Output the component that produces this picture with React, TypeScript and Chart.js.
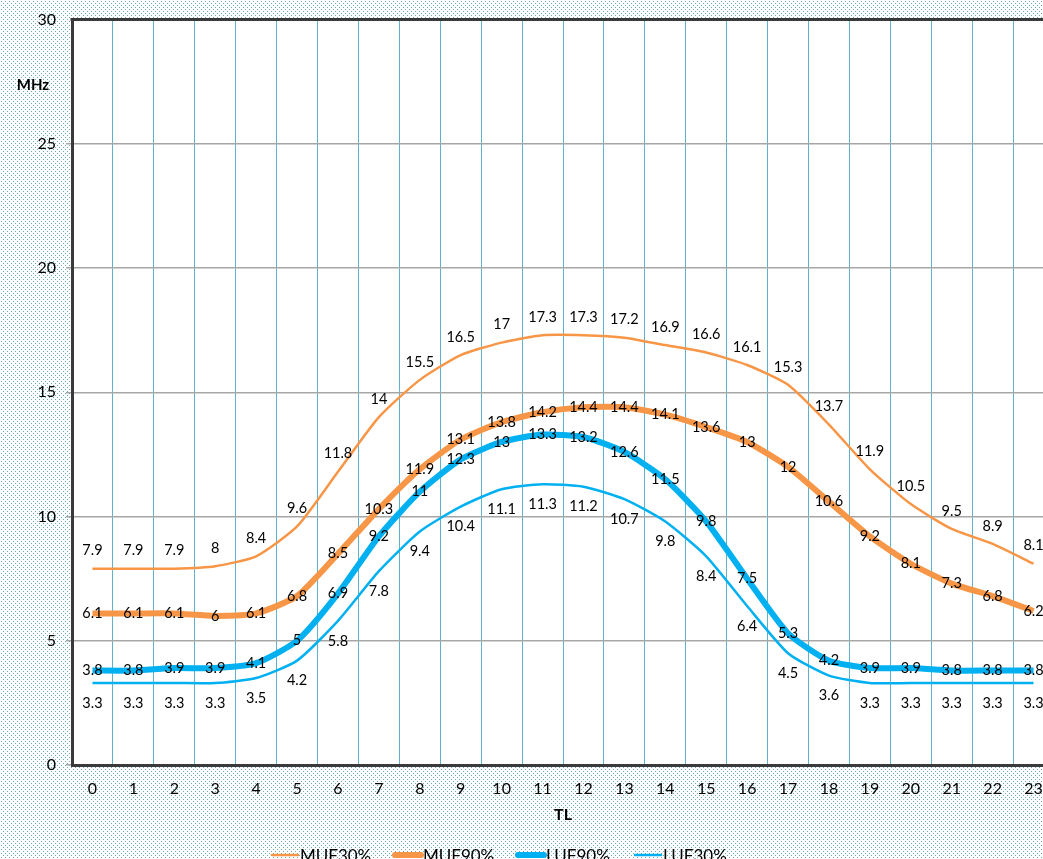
import React, { useEffect, useRef } from "react";
import { Chart, registerables } from "chart.js";

Chart.register(...registerables);

const hours = ["0","1","2","3","4","5","6","7","8","9","10","11","12","13","14","15","16","17","18","19","20","21","22","23"];
const muf30 = [7.9,7.9,7.9,8,8.4,9.6,11.8,14,15.5,16.5,17,17.3,17.3,17.2,16.9,16.6,16.1,15.3,13.7,11.9,10.5,9.5,8.9,8.1];
const muf90 = [6.1,6.1,6.1,6,6.1,6.8,8.5,10.3,11.9,13.1,13.8,14.2,14.4,14.4,14.1,13.6,13,12,10.6,9.2,8.1,7.3,6.8,6.2];
const luf90 = [3.8,3.8,3.9,3.9,4.1,5,6.9,9.2,11,12.3,13,13.3,13.2,12.6,11.5,9.8,7.5,5.3,4.2,3.9,3.9,3.8,3.8,3.8];
const luf30 = [3.3,3.3,3.3,3.3,3.5,4.2,5.8,7.8,9.4,10.4,11.1,11.3,11.2,10.7,9.8,8.4,6.4,4.5,3.6,3.3,3.3,3.3,3.3,3.3];
const seriesNames = ["MUF30%", "MUF90%", "LUF90%", "LUF30%"];

const ORANGE = "#f79646";
const BLUE = "#00b0f0";
const FONT = "Lato, 'Open Sans', sans-serif";

const W = 1070;
const H = 880;

function makePattern(): CanvasPattern | string {
  const c = document.createElement("canvas");
  c.width = 4;
  c.height = 4;
  const g = c.getContext("2d");
  if (!g) return "#eef4f5";
  g.fillStyle = "#ffffff";
  g.fillRect(0, 0, 4, 4);
  g.fillStyle = "#6eaab6";
  g.fillRect(1, 1, 1, 1);
  g.fillRect(3, 3, 1, 1);
  const p = g.createPattern(c, "repeat");
  return p || "#eef4f5";
}

const labelOffsets = [-18, 0, 0, 20];

const decorPlugin = {
  id: "decor",
  beforeDraw(chart: any) {
    const { ctx, chartArea } = chart;
    ctx.save();
    ctx.fillStyle = makePattern();
    ctx.fillRect(0, 0, chart.width, chart.height);
    ctx.fillStyle = "#ffffff";
    ctx.fillRect(chartArea.left, chartArea.top, chartArea.right - chartArea.left, chartArea.bottom - chartArea.top);
    ctx.restore();
  },
  afterDraw(chart: any) {
    const { ctx, chartArea } = chart;
    ctx.save();
    // top border
    ctx.strokeStyle = "#3a3a3a";
    ctx.lineWidth = 3;
    ctx.beginPath();
    ctx.moveTo(chartArea.left - 1.5, chartArea.top);
    ctx.lineTo(chartArea.right, chartArea.top);
    ctx.stroke();

    // data labels
    ctx.fillStyle = "#000000";
    ctx.font = `14.5px ${FONT}`;
    ctx.textAlign = "center";
    ctx.textBaseline = "middle";
    chart.data.datasets.forEach((ds: any, i: number) => {
      const meta = chart.getDatasetMeta(i);
      meta.data.forEach((pt: any, j: number) => {
        ctx.fillText(String(ds.data[j]), pt.x, pt.y + labelOffsets[i]);
      });
    });

    // MHz title
    ctx.font = `bold 15px ${FONT}`;
    ctx.textAlign = "center";
    ctx.fillText("MHz", 33, 85);

    // legend
    const items = [
      { x: 272, w: 2.5, c: ORANGE },
      { x: 395, w: 6, c: ORANGE },
      { x: 518, w: 6, c: BLUE },
      { x: 635, w: 2.5, c: BLUE },
    ];
    const ly = 855;
    ctx.font = `17px ${FONT}`;
    ctx.textAlign = "left";
    items.forEach((it, k) => {
      ctx.strokeStyle = it.c;
      ctx.lineWidth = it.w;
      ctx.lineCap = "round";
      ctx.beginPath();
      ctx.moveTo(it.x, ly);
      ctx.lineTo(it.x + 26, ly);
      ctx.stroke();
      ctx.fillStyle = "#000000";
      ctx.fillText(seriesNames[k], it.x + 28, ly + 2);
    });
    ctx.restore();
  },
};

export default function App() {
  const ref = useRef<HTMLCanvasElement | null>(null);
  useEffect(() => {
    if (!ref.current) return;
    const chart = new Chart(ref.current, {
      type: "line",
      data: {
        labels: hours,
        datasets: [
          { label: seriesNames[0], data: muf30, borderColor: ORANGE, borderWidth: 2.5, pointRadius: 0, tension: 0.2, fill: false },
          { label: seriesNames[1], data: muf90, borderColor: ORANGE, borderWidth: 6, pointRadius: 0, tension: 0.2, fill: false },
          { label: seriesNames[2], data: luf90, borderColor: BLUE, borderWidth: 6, pointRadius: 0, tension: 0.2, fill: false },
          { label: seriesNames[3], data: luf30, borderColor: BLUE, borderWidth: 2.5, pointRadius: 0, tension: 0.2, fill: false },
        ],
      },
      options: {
        responsive: false,
        animation: false,
        devicePixelRatio: 1,
        layout: { padding: { left: 0, top: 16, right: W - 1054, bottom: 0 } },
        plugins: { legend: { display: false }, tooltip: { enabled: false } },
        scales: {
          x: {
            type: "category",
            offset: true,
            grid: { offset: true, color: "#5eb3cc", lineWidth: 1, drawTicks: false },
            border: { display: true, color: "#3a3a3a", width: 3 },
            ticks: { color: "#000", font: { family: FONT, size: 16 }, padding: 14, maxRotation: 0, autoSkip: false },
            title: { display: true, text: "TL", color: "#000", font: { family: FONT, size: 16, weight: "bold" }, padding: { top: 4, bottom: 56 } },
            afterFit(scale: any) { scale.height = H - 765; },
          },
          y: {
            min: 0,
            max: 30,
            ticks: { stepSize: 5, color: "#000", font: { family: FONT, size: 16 }, padding: 10 },
            grid: {
              color: (c: any) => (c.tick && c.tick.value === 30 ? "rgba(0,0,0,0)" : "#a6a6a6"),
              lineWidth: 1.5,
              drawTicks: true,
              tickLength: 6,
            },
            border: { display: true, color: "#3a3a3a", width: 3 },
            afterFit(scale: any) { scale.width = 72; },
          },
        },
      },
      plugins: [decorPlugin],
    } as any);
    return () => chart.destroy();
  }, []);
  return (
    <div style={{ position: "fixed", left: 0, top: 0, width: 1043, height: 859, overflow: "hidden" }}>
      <canvas ref={ref} width={W} height={H} style={{ width: W, height: H, display: "block" }} />
    </div>
  );
}
